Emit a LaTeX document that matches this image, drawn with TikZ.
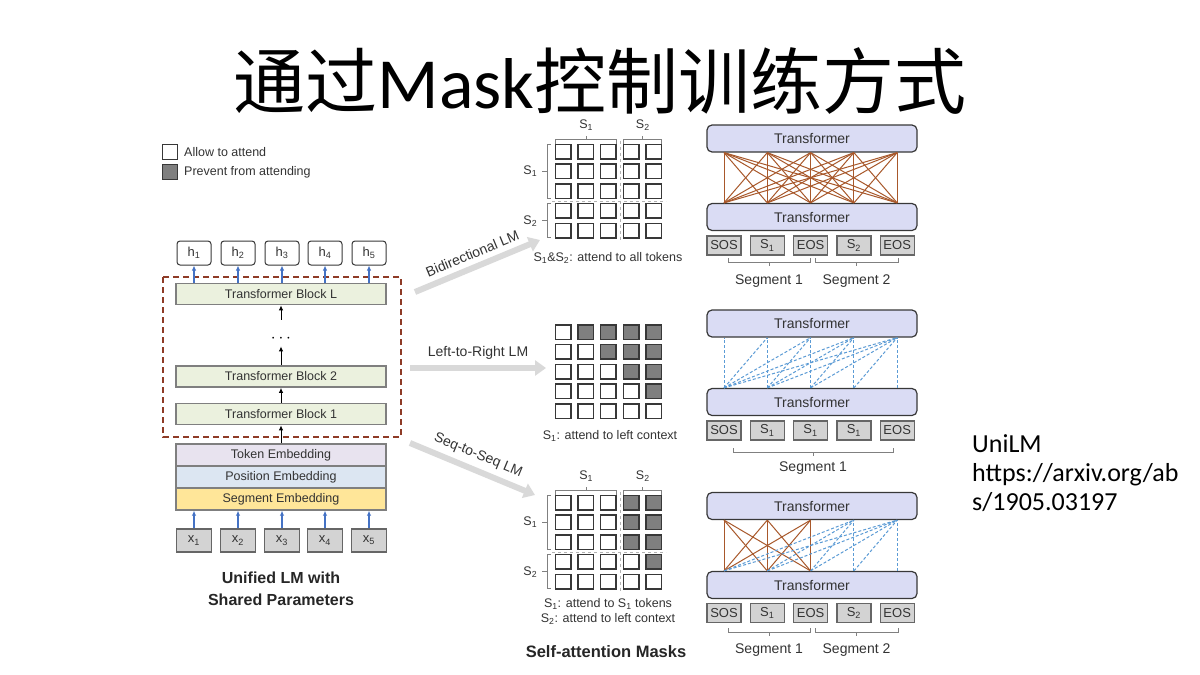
\documentclass[tikz,border=0pt]{standalone}
\usepackage{fontspec}
\setmainfont{Liberation Sans}
\newfontfamily\titlefont{Carlito}
\newfontfamily\cjk{Noto Sans CJK SC}
\usetikzlibrary{positioning,arrows.meta}

\definecolor{blockgreen}{HTML}{EBF1DE}
\definecolor{blockedge}{HTML}{7F7F7F}
\definecolor{tokfill}{HTML}{E8E3EF}
\definecolor{posfill}{HTML}{DCE6F2}
\definecolor{segfill}{HTML}{FFE699}
\definecolor{framebrown}{HTML}{8E3B26}
\definecolor{upblue}{HTML}{4472C4}
\definecolor{maskgray}{HTML}{7F7F7F}
\definecolor{celledge}{HTML}{383838}
\definecolor{lmgray}{HTML}{D9D9D9}
\definecolor{tfill}{HTML}{DADCF4}
\definecolor{tokgray}{HTML}{D3D3D3}
\definecolor{attbrown}{HTML}{A8582B}
\definecolor{attblue}{HTML}{5B9BD5}
\definecolor{txtgray}{HTML}{333333}

\newcommand{\fsz}[2]{\fontsize{#1}{#2}\selectfont}

\begin{document}
\begin{tikzpicture}[x=1pt, y=-1pt,
    hbox/.style={draw=celledge, line width=1pt, rounded corners=3pt, minimum width=34pt, minimum height=24pt, inner sep=0pt, font=\fsz{13}{15}, text=txtgray},
    block/.style={draw=blockedge, fill=blockgreen, line width=1.6pt, minimum width=210pt, minimum height=21pt, inner sep=0pt, font=\fsz{12.5}{14}, text=txtgray},
    embed/.style={draw=blockedge, line width=1.4pt, minimum width=210pt, minimum height=22pt, inner sep=0pt, font=\fsz{12.5}{14}, text=txtgray},
    xbox/.style={draw=black!60, fill=tokgray, line width=1.2pt, minimum width=35pt, minimum height=23pt, inner sep=0pt, font=\fsz{13}{15}, text=txtgray},
    up arrow/.style={draw=upblue, line width=1.3pt, -{Latex[length=5pt,width=4.5pt]}},
    blk arrow/.style={line width=1pt, -{Latex[length=5pt,width=4.5pt]}},
    lm arrow/.style={draw=lmgray, line width=6pt, -{Triangle[length=11pt,width=15pt]}},
    lm label/.style={font=\fsz{14}{16}, text=txtgray},
    cell/.style={draw=celledge, line width=1.5pt, minimum width=15.5pt, minimum height=14.5pt, inner sep=0pt},
    sep line/.style={draw=black!30, dashed, line width=1pt},
    brk/.style={draw=black!50, line width=1pt},
    small/.style={font=\fsz{12.5}{15}, text=txtgray},
    tbox/.style={draw=celledge, fill=tfill, line width=1.2pt, rounded corners=5pt, minimum width=210pt, minimum height=27pt, inner sep=0pt, font=\fsz{14}{16}, text=txtgray},
    tok/.style={draw=black!60, fill=tokgray, line width=1.2pt, minimum width=34pt, minimum height=19pt, inner sep=0pt, font=\fsz{13}{15}, text=txtgray},
    full att/.style={draw=attbrown, line width=1pt},
    left att/.style={draw=attblue, line width=1pt, dash pattern=on 3pt off 2pt},
    seg label/.style={font=\fsz{14}{16}, text=txtgray},
    ref text/.style={font=\titlefont\fsz{26}{29}, anchor=base west, inner sep=0pt},
  ]
  \useasboundingbox (0,0) rectangle (1200,675);
  \fill[white] (0,0) rectangle (1200,675);

  % title
  \node[anchor=base, font=\fsz{72}{80}\cjk] (title) at (600,108) {通过{\titlefont Mask}控制训练方式};

  % legend
  \node[cell, minimum width=15pt, minimum height=15pt, line width=1pt] (allowbox) at (170,152) {};
  \node[small, right=6pt of allowbox, inner sep=0pt] (allowtxt) {Allow to attend};
  \node[cell, fill=maskgray, minimum width=15pt, minimum height=15pt, line width=1pt] (preventbox) at (170,172) {};
  \node[small, right=6pt of preventbox, inner sep=0pt] (preventtxt) {Prevent from attending};

  % unified LM
  \foreach \i/\x in {1/194,2/238,3/282,4/325,5/369}{
    \node[hbox] (h\i) at (\x,253) {h\textsubscript{\i}};
    \node[xbox] (x\i) at (\x,540.5) {x\textsubscript{\i}};
  }
  \draw[framebrown, line width=1.5pt, dash pattern=on 6pt off 4pt] (163,277) rectangle (401,437);
  \node[block] (blockL) at (281,294) {Transformer Block L};
  \node[font=\fsz{16}{18}] (dots) at (281,339) {$\cdots$};
  \node[block] (blockB) at (281,376.5) {Transformer Block 2};
  \node[block] (blockA) at (281,414) {Transformer Block 1};
  \node[embed, fill=tokfill] (tokemb) at (281,455) {Token Embedding};
  \node[embed, fill=posfill] (posemb) at (281,477) {Position Embedding};
  \node[embed, fill=segfill] (segemb) at (281,499) {Segment Embedding};
  \foreach \i in {1,...,5}{
    \draw[up arrow] (x\i.north) -- (x\i.north |- segemb.south);
    \draw[up arrow] (h\i.south |- blockL.north) -- (h\i.south);
  }
  \draw[blk arrow] (tokemb) -- (blockA);
  \draw[blk arrow] (blockA) -- (blockB);
  \draw[blk arrow] (blockB) -- (dots);
  \draw[blk arrow, shorten <=12pt] (dots) -- (blockL);
  \node[font=\bfseries\fsz{16}{22}, align=center, text=black!85] (unified) at (281,589) {Unified LM with\\Shared Parameters};

  % LM arrows
  \coordinate (biTail) at (415,292);
  \coordinate (biHead) at (540,240);
  \coordinate (lrTail) at (410,368);
  \coordinate (lrHead) at (546,368);
  \coordinate (ssTail) at (410,443);
  \coordinate (ssHead) at (535,495);
  \draw[lm arrow] (biTail) -- (biHead) node[lm label, midway, sloped, above=2pt] (biLM) {Bidirectional LM};
  \draw[lm arrow] (lrTail) -- (lrHead) node[lm label, midway, above=2pt] (lrLM) {Left-to-Right LM};
  \draw[lm arrow] (ssTail) -- (ssHead) node[lm label, midway, sloped, above=2pt] (ssLM) {Seq-to-Seq LM};

  % masks
  \foreach \m/\y/\k in {bi/151.5/0,lr/332/1,ss/502.5/2}{
    \foreach \r in {1,...,5}{
      \foreach \c in {1,...,5}{
        \pgfmathtruncatemacro\dark{(\k==1)*(\c>\r) + (\k==2)*((\r<4)*(\c>3) + (\r==4)*(\c==5))}
        \ifnum\dark>0 \def\cellfill{maskgray}\else\def\cellfill{white}\fi
        \node[cell, fill=\cellfill] (\m-\r-\c) at ({563+22.7*(\c-1)},{\y+19.8*(\r-1)}) {};
      }
    }
  }
  \foreach \m/\y in {bi/151.5,ss/502.5}{
    \draw[sep line] (620.4,{\y-11}) -- (620.4,{\y+90});
    \draw[sep line] (552,{\y+49.5}) -- (666,{\y+49.5});
    % brackets on top
    \draw[brk] (555.5,{\y-8}) -- (555.5,{\y-12}) -- (616.9,{\y-12}) -- (616.9,{\y-8});
    \draw[brk] (586.2,{\y-12}) -- (586.2,{\y-16}) node[small, above=1pt] {S\textsubscript{1}};
    \draw[brk] (623.9,{\y-8}) -- (623.9,{\y-12}) -- (661.8,{\y-12}) -- (661.8,{\y-8});
    \draw[brk] (642.8,{\y-12}) -- (642.8,{\y-16}) node[small, above=1pt] {S\textsubscript{2}};
    % brackets on the left
    \draw[brk] (551,{\y-7}) -- (547,{\y-7}) -- (547,{\y+46.6}) -- (551,{\y+46.6});
    \draw[brk] (547,{\y+19.8}) -- (542,{\y+19.8}) node[small, left=1pt] {S\textsubscript{1}};
    \draw[brk] (551,{\y+52.4}) -- (547,{\y+52.4}) -- (547,{\y+86.2}) -- (551,{\y+86.2});
    \draw[brk] (547,{\y+69.3}) -- (542,{\y+69.3}) node[small, left=1pt] {S\textsubscript{2}};
  }
  \node[small] (biCap) at (608,258) {S\textsubscript{1}\&S\textsubscript{2}: attend to all tokens};
  \node[small] (lrCap) at (610,436) {S\textsubscript{1}: attend to left context};
  \node[small, align=center] (ssCap) at (608,611.5) {S\textsubscript{1}: attend to S\textsubscript{1} tokens\\S\textsubscript{2}: attend to left context};
  \node[font=\bfseries\fsz{16.5}{20}, text=black!85] (maskTitle) at (606,652) {Self-attention Masks};

  % bidirectional transformer
  \begin{scope}[shift={(0,138.5)}]
    \node[tbox] (biTop) at (812,0) {Transformer};
    \node[tbox] (biBot) at (812,78.5) {Transformer};
    \foreach \i/\lbl in {1/SOS,2/S\textsubscript{1},3/EOS,4/S\textsubscript{2},5/EOS}{
      \node[tok] (biTok\i) at ({724+43.3*(\i-1)},107) {\lbl};
      \coordinate (biU\i) at (biTok\i.center |- biTop.south);
      \coordinate (biD\i) at (biTok\i.center |- biBot.north);
    }
    \foreach \i in {1,...,5}
      \foreach \j in {1,...,5}
        \draw[full att] (biD\i) -- (biU\j);
    \draw[brk] (728,119.5) -- (728,123.5) -- (810,123.5) -- (810,119.5);
    \draw[brk] (769,123.5) -- (769,127.5) node[seg label, below=5pt] (biSegA) {Segment 1};
    \draw[brk] (815,119.5) -- (815,123.5) -- (898,123.5) -- (898,119.5);
    \draw[brk] (856.5,123.5) -- (856.5,127.5) node[seg label, below=5pt] (biSegB) {Segment 2};
  \end{scope}

  % left-to-right transformer
  \begin{scope}[shift={(0,323.5)}]
    \node[tbox] (lrTop) at (812,0) {Transformer};
    \node[tbox] (lrBot) at (812,78.5) {Transformer};
    \foreach \i/\lbl in {1/SOS,2/S\textsubscript{1},3/S\textsubscript{1},4/S\textsubscript{1},5/EOS}{
      \node[tok] (lrTok\i) at ({724+43.3*(\i-1)},107) {\lbl};
      \coordinate (lrU\i) at (lrTok\i.center |- lrTop.south);
      \coordinate (lrD\i) at (lrTok\i.center |- lrBot.north);
    }
    \foreach \i in {1,...,5}
      \foreach \j in {\i,...,5}
        \draw[left att] (lrD\i) -- (lrU\j);
    \draw[brk] (733,124.5) -- (733,128.5) -- (893,128.5) -- (893,124.5);
    \draw[brk] (813,128.5) -- (813,132.5) node[seg label, below=2pt] (lrSeg) {Segment 1};
  \end{scope}

  % seq-to-seq transformer
  \begin{scope}[shift={(0,506)}]
    \node[tbox] (ssTop) at (812,0) {Transformer};
    \node[tbox] (ssBot) at (812,79) {Transformer};
    \foreach \i/\lbl in {1/SOS,2/S\textsubscript{1},3/EOS,4/S\textsubscript{2},5/EOS}{
      \node[tok] (ssTok\i) at ({724+43.3*(\i-1)},107) {\lbl};
      \coordinate (ssU\i) at (ssTok\i.center |- ssTop.south);
      \coordinate (ssD\i) at (ssTok\i.center |- ssBot.north);
    }
    \foreach \i in {1,2,3}
      \foreach \j in {1,2,3}
        \draw[full att] (ssD\i) -- (ssU\j);
    \foreach \j in {4,5}
      \foreach \i in {1,...,\j}
        \draw[left att] (ssD\i) -- (ssU\j);
    \draw[brk] (728,122) -- (728,126) -- (810,126) -- (810,122);
    \draw[brk] (769,126) -- (769,130) node[seg label, below=4pt] (ssSegA) {Segment 1};
    \draw[brk] (815,122) -- (815,126) -- (898,126) -- (898,122);
    \draw[brk] (856.5,126) -- (856.5,130) node[seg label, below=4pt] (ssSegB) {Segment 2};
  \end{scope}

  % reference
  \node[ref text] (refA) at (972,452) {UniLM};
  \node[ref text] (refB) at (972,481) {https://arxiv.org/ab};
  \node[ref text] (refC) at (972,510) {s/1905.03197};
\end{tikzpicture}
\end{document}
